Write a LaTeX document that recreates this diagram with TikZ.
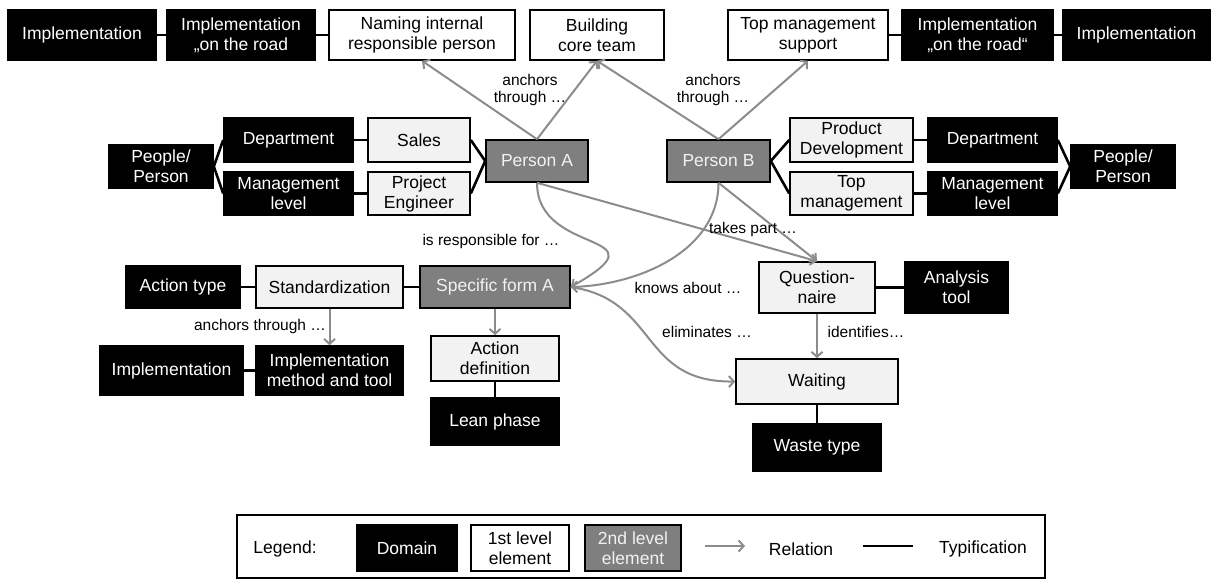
\documentclass[tikz,border=0pt]{standalone}
\usepackage{fontspec}
\setmainfont{Liberation Sans}
\usetikzlibrary{arrows.meta,positioning}
\definecolor{darkfill}{HTML}{7F7F7F}
\definecolor{lightfill}{HTML}{F2F2F2}
\definecolor{relgray}{HTML}{8C8C8C}

\begin{document}
\begin{tikzpicture}[x=1pt, y=1pt, font=\fontsize{17.5}{20}\selectfont,
    box/.style={rectangle, align=center, inner sep=0pt, line width=1.6pt},
    dom/.style={box, draw=black, fill=black, text=white},
    lvlone/.style={box, draw=black, fill=white},
    lvlonegray/.style={lvlone, fill=lightfill},
    lvltwo/.style={box, draw=black, fill=darkfill, text=lightfill},
    rel/.style={draw=relgray, line width=2pt, -{Straight Barb[length=5pt, width=11pt]}},
    typ/.style={draw=black, line width=2.6pt},
    lbl/.style={font=\fontsize{15.5}{17}\selectfont, inner sep=0pt, align=center}]
        \useasboundingbox (0,0) rectangle (1212,-583);
        %top row
        \node[dom, minimum width=148, minimum height=50] (impTL) at (82,-35) {Implementation};
        \node[dom, minimum width=148, minimum height=50] (roadL) at (241,-35) {Implementation\\„on the road};
        \node[lvlone, minimum width=186, minimum height=50] (naming) at (422,-35) {Naming internal\\responsible person};
        \node[lvlone, minimum width=134, minimum height=50] (core) at (597,-35) {Building\\core team};
        \node[lvlone, minimum width=160, minimum height=50] (topsup) at (808,-35) {Top management\\support};
        \node[dom, minimum width=151, minimum height=50] (roadR) at (977.5,-35) {Implementation\\„on the road“};
        \node[dom, minimum width=147, minimum height=50] (impTR) at (1136.5,-35) {Implementation};
        %persons
        \node[dom, minimum width=104, minimum height=43] (peopleL) at (161,-166.5) {People/\\Person};
        \node[dom, minimum width=129, minimum height=44] (deptL) at (288.5,-140) {Department};
        \node[dom, minimum width=129, minimum height=43] (mgmtL) at (288.5,-193.5) {Management\\level};
        \node[lvlonegray, minimum width=102, minimum height=44] (sales) at (419,-140) {Sales};
        \node[lvlonegray, minimum width=102, minimum height=43] (projeng) at (419,-193.5) {Project\\Engineer};
        \node[lvltwo, minimum width=102, minimum height=42] (personA) at (537,-161) {Person A};
        \node[lvltwo, minimum width=103, minimum height=42] (personB) at (718.5,-161) {Person B};
        \node[lvlonegray, minimum width=123, minimum height=44] (proddev) at (851.5,-140) {Product\\Development};
        \node[lvlonegray, minimum width=123, minimum height=43] (topmgmt) at (851.5,-193.5) {Top\\management};
        \node[dom, minimum width=129, minimum height=44] (deptR) at (992.5,-140) {Department};
        \node[dom, minimum width=129, minimum height=43] (mgmtR) at (992.5,-193.5) {Management\\level};
        \node[dom, minimum width=104, minimum height=43] (peopleR) at (1123,-166.5) {People/\\Person};
        %actions
        \node[dom, minimum width=114, minimum height=42] (actype) at (183,-287) {Action type};
        \node[lvlonegray, minimum width=147, minimum height=42] (standard) at (329.5,-287) {Standardization};
        \node[lvltwo, minimum width=150, minimum height=42] (specA) at (495,-287) {Specific form A};
        \node[dom, minimum width=143, minimum height=49] (impBL) at (171.5,-370.5) {Implementation};
        \node[dom, minimum width=147, minimum height=49] (implmeth) at (329.5,-370.5) {Implementation\\method and tool};
        \node[lvlonegray, minimum width=128, minimum height=45] (actdef) at (495,-358.5) {Action\\definition};
        \node[dom, minimum width=128, minimum height=47] (lean) at (495,-421.5) {Lean phase};
        %analysis
        \node[lvlonegray, minimum width=116, minimum height=51] (quest) at (817,-287.5) {Question-\\naire};
        \node[dom, minimum width=103, minimum height=51] (analysis) at (956.5,-287.5) {Analysis\\tool};
        \node[lvlonegray, minimum width=162, minimum height=45] (waiting) at (817,-381.5) {Waiting};
        \node[dom, minimum width=128, minimum height=47] (waste) at (817,-447.5) {Waste type};
        %typification
        \draw[typ] (impTL) -- (roadL);
        \draw[typ] (roadL) -- (naming);
        \draw[typ] (topsup) -- (roadR);
        \draw[typ] (roadR) -- (impTR);
        \draw[typ] (peopleL.east) -- (deptL.west);
        \draw[typ] (peopleL.east) -- (mgmtL.west);
        \draw[typ] (deptL) -- (sales);
        \draw[typ] (mgmtL) -- (projeng);
        \draw[typ] (sales.east) -- (personA.west);
        \draw[typ] (projeng.east) -- (personA.west);
        \draw[typ] (personB.east) -- (proddev.west);
        \draw[typ] (personB.east) -- (topmgmt.west);
        \draw[typ] (proddev) -- (deptR);
        \draw[typ] (topmgmt) -- (mgmtR);
        \draw[typ] (deptR.east) -- (peopleR.west);
        \draw[typ] (mgmtR.east) -- (peopleR.west);
        \draw[typ] (actype) -- (standard);
        \draw[typ] (standard) -- (specA);
        \draw[typ] (impBL) -- (implmeth);
        \draw[typ] (actdef) -- (lean);
        \draw[typ] (quest) -- (analysis);
        \draw[typ] (waiting) -- (waste);
        %relations
        \draw[rel] (personA.north) -- (naming.south);
        \draw[rel] (personA.north) -- (core.south);
        \draw[rel] (personB.north) -- (core.south);
        \draw[rel] (personB.north) -- (topsup.south);
        \draw[rel] (personA.south) .. controls +(0,-75) and +(100,57) .. (specA.east);
        \draw[rel] (personB.south) .. controls +(0,-68) and +(68,2) .. (specA.east);
        \draw[rel] (personA.south) -- (quest.north);
        \draw[rel] (personB.south) -- (quest.north);
        \draw[rel] (specA.east) .. controls +(88,-13) and +(-96,-1) .. (waiting.west);
        \draw[rel] (quest) -- (waiting);
        \draw[rel] (standard) -- (implmeth);
        \draw[rel] (specA) -- (actdef);
        %labels
        \node[lbl] (anchA) at (530,-90) {anchors\\through …};
        \node[lbl] (anchB) at (713,-90) {anchors\\through …};
        \node[lbl] (resp) at (491,-241) {is responsible for …};
        \node[lbl] (takes) at (753,-229) {takes part …};
        \node[lbl] (knows) at (688,-288) {knows about …};
        \node[lbl] (elim) at (707,-332) {eliminates …};
        \node[lbl] (ident) at (866,-332) {identifies…};
        \node[lbl] (anchC) at (260,-326) {anchors through …};
        %legend
        \node[draw=black, line width=1.6pt, minimum width=808, minimum height=63, inner sep=0pt] (legend) at (641,-546.5) {};
        \node[inner sep=0pt] (legtitle) at (285,-549) {Legend:};
        \node[dom, minimum width=100, minimum height=46] (legdom) at (407,-548) {Domain};
        \node[lvlone, minimum width=98, minimum height=46] (legone) at (520,-548) {1st level\\element};
        \node[lvltwo, minimum width=96, minimum height=46] (legtwo) at (633,-548) {2nd level\\element};
        \coordinate (relA) at (705,-546);
        \coordinate (relB) at (745,-546);
        \draw[rel] (relA) -- (relB);
        \node[inner sep=0pt] (legrel) at (801,-549) {Relation};
        \coordinate (typA) at (863,-546);
        \coordinate (typB) at (913,-546);
        \draw[typ] (typA) -- (typB);
        \node[inner sep=0pt] (legtyp) at (983,-549) {Typification};
      \end{tikzpicture}
\end{document}
